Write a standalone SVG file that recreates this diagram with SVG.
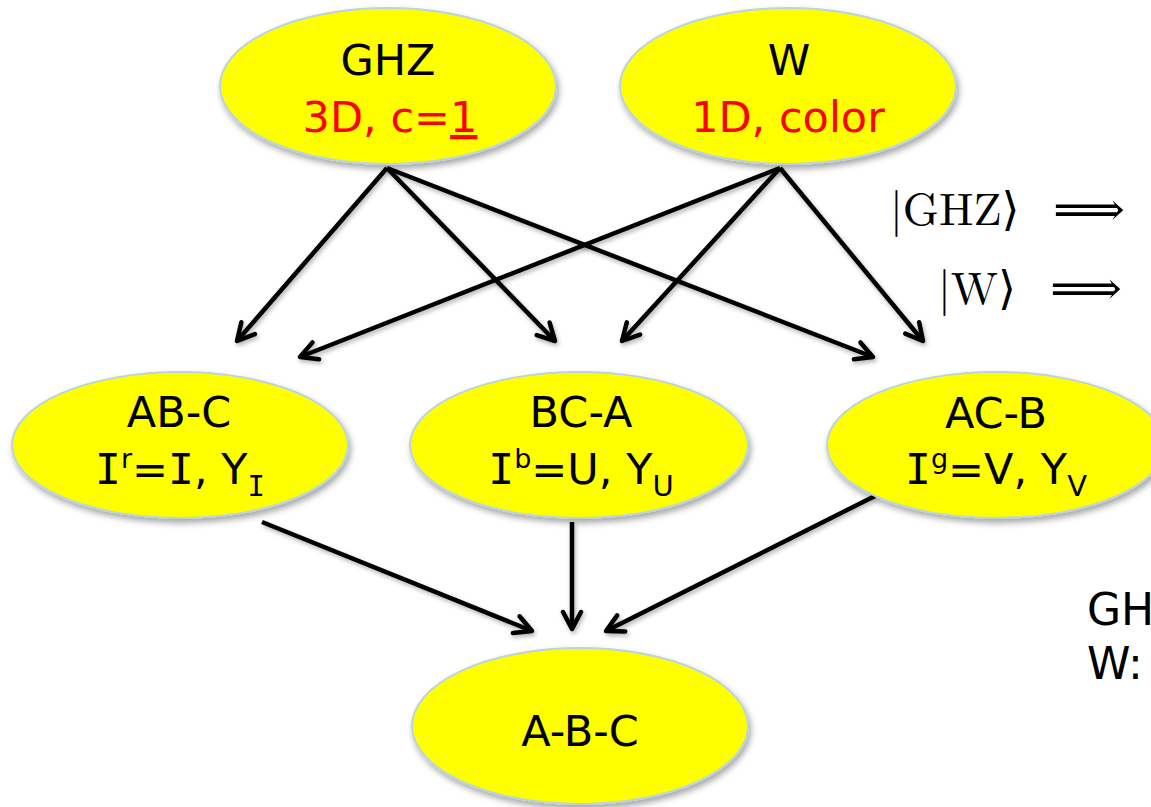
<svg xmlns="http://www.w3.org/2000/svg" width="1151" height="807" viewBox="0 0 1151 807">
  <style>
    .node { fill: #ffff00; stroke: #b8d4e0; stroke-width: 2; filter: url(#shadow); }
    .lbl { font-family: "DejaVu Sans", "Liberation Sans", sans-serif; font-size: 43px; fill: #000; text-anchor: middle; }
    .red { fill: #ff0000; }
    .bar { font-family: "DejaVu Sans Mono", "Liberation Mono", monospace; }
    .sup { font-size: 27px; }
    .sub { font-size: 29px; }
    .edge { stroke: #000; stroke-width: 4.5; fill: none; marker-end: url(#head); filter: url(#lshadow); }
    .math { font-family: "Latin Modern Roman", "DejaVu Serif", "Liberation Serif", serif; font-size: 46px; fill: #000; }
    .side { font-family: "DejaVu Sans", "Liberation Sans", sans-serif; font-size: 44px; fill: #000; }
  </style>
  <defs>
    <filter id="shadow" x="-10%" y="-10%" width="120%" height="130%">
      <feDropShadow dx="2" dy="4" stdDeviation="3" flood-color="#000" flood-opacity="0.35"/>
    </filter>
    <filter id="lshadow" filterUnits="userSpaceOnUse" x="0" y="0" width="1151" height="807">
      <feDropShadow dx="1.5" dy="2.5" stdDeviation="2" flood-color="#000" flood-opacity="0.3"/>
    </filter>
    <marker id="head" viewBox="0 0 24 24" refX="21" refY="12" markerWidth="24" markerHeight="24" markerUnits="userSpaceOnUse" orient="auto">
      <path d="M4,3 L21,12 L4,21" fill="none" stroke="#000" stroke-width="4.5" stroke-linecap="round" stroke-linejoin="round"/>
    </marker>
  </defs>

  <!-- connectors -->
  <g id="connectors">
    <line class="edge" x1="387" y1="168" x2="237" y2="341"/>
    <line class="edge" x1="387" y1="168" x2="555" y2="341"/>
    <line class="edge" x1="387" y1="168" x2="873" y2="357"/>
    <line class="edge" x1="780" y1="168" x2="300" y2="357"/>
    <line class="edge" x1="780" y1="168" x2="622" y2="341"/>
    <line class="edge" x1="780" y1="168" x2="923" y2="341"/>
    <line class="edge" x1="262" y1="522" x2="532" y2="631"/>
    <line class="edge" x1="572" y1="522" x2="572" y2="629"/>
    <line class="edge" x1="875" y1="496" x2="606" y2="631"/>
  </g>

  <g id="node-ghz">
    <ellipse class="node" cx="388" cy="86" rx="168" ry="78"/>
    <text class="lbl" x="388" y="75">GHZ</text>
    <text class="lbl red" x="390" y="132">3D, c=<tspan text-decoration="underline">1</tspan></text>
  </g>

  <g id="node-w">
    <ellipse class="node" cx="788" cy="86" rx="168" ry="78"/>
    <text class="lbl" x="789" y="75">W</text>
    <text class="lbl red" x="788" y="132">1D, color</text>
  </g>

  <g id="node-abc-pair">
    <ellipse class="node" cx="180" cy="445" rx="168" ry="73"/>
    <text class="lbl" x="179" y="427">AB-C</text>
    <text class="lbl" x="180" y="484"><tspan class="bar">I</tspan><tspan class="sup" dy="-16">r</tspan><tspan dy="16">=</tspan><tspan class="bar">I</tspan>, Y<tspan class="sub bar" dy="12">I</tspan></text>
  </g>

  <g id="node-bca">
    <ellipse class="node" cx="579" cy="445" rx="169" ry="73"/>
    <text class="lbl" x="581" y="427">BC-A</text>
    <text class="lbl" x="581" y="484"><tspan class="bar">I</tspan><tspan class="sup" dy="-16">b</tspan><tspan dy="16">=U, Y</tspan><tspan class="sub" dy="12">U</tspan></text>
  </g>

  <g id="node-acb">
    <ellipse class="node" cx="996" cy="445" rx="169" ry="73"/>
    <text class="lbl" x="996" y="428">AC-B</text>
    <text class="lbl" x="996" y="484"><tspan class="bar">I</tspan><tspan class="sup" dy="-16">g</tspan><tspan dy="16">=V, Y</tspan><tspan class="sub" dy="12">V</tspan></text>
  </g>

  <g id="node-a-b-c">
    <ellipse class="node" cx="580" cy="726" rx="168" ry="78"/>
    <text class="lbl" x="580" y="746">A-B-C</text>
  </g>

  <!-- state implications -->
  <g id="implications">
    <text class="math" x="890" y="225">|GHZ⟩</text>
    <text class="math" x="1053" y="225" textLength="72" lengthAdjust="spacingAndGlyphs">⟹</text>
    <text class="math" x="938" y="304">|W⟩</text>
    <text class="math" x="1050" y="304" textLength="72" lengthAdjust="spacingAndGlyphs">⟹</text>
  </g>

  <g id="side-notes">
    <text class="side" x="1087" y="625">GH</text>
    <text class="side" x="1087" y="679">W:</text>
  </g>
</svg>
